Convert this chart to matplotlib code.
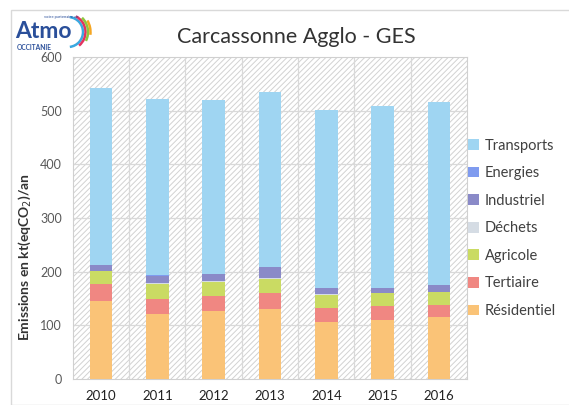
import matplotlib.pyplot as plt
import numpy as np
from matplotlib.patches import Rectangle, Arc

plt.rcParams['font.family'] = ['Lato', 'DejaVu Sans']
plt.rcParams['hatch.linewidth'] = 0.7

years = ["2010", "2011", "2012", "2013", "2014", "2015", "2016"]
residentiel = [145, 121, 127, 130, 106, 111, 116]
tertiaire = [33, 28, 28, 31, 26, 25, 22]
agricole = [23, 29, 26, 26, 25, 24, 24]
dechets = [1, 1, 1, 1, 1, 1, 1]
industriel = [10, 14, 14, 20, 12, 9, 12]
energies = [0.5, 0.5, 0.5, 0.5, 0.5, 0.5, 0.5]
transports = [330, 329, 324, 326, 331, 338, 341]

series = [("Résidentiel", residentiel, "#fac377"),
          ("Tertiaire", tertiaire, "#f08782"),
          ("Agricole", agricole, "#cadb63"),
          ("Déchets", dechets, "#d5dce4"),
          ("Industriel", industriel, "#8a8ac8"),
          ("Energies", energies, "#7f9bef"),
          ("Transports", transports, "#9fd5f2")]

fig = plt.figure(figsize=(5.69, 4.05), dpi=100)
ax = fig.add_axes([0.128, 0.064, 0.693, 0.795])

# hatched background
ax.add_patch(Rectangle((0, 0), 1, 1, transform=ax.transAxes, facecolor="white",
                       edgecolor="#d2d2d2", hatch="//////", linewidth=0, zorder=0))

x = np.arange(len(years))
bottom = np.zeros(len(years))
handles = {}
for name, vals, col in series:
    b = ax.bar(x, vals, 0.4, bottom=bottom, color=col, zorder=3, label=name)
    handles[name] = b
    bottom += np.array(vals)

ax.set_xlim(-0.5, len(years) - 0.5)
ax.set_ylim(0, 600)
ax.set_yticks(range(0, 601, 100))
ax.set_xticks(x)
ax.set_xticklabels(years)
for v in range(100, 600, 100):
    ax.axhline(v, color="#d9d9d9", lw=0.9, zorder=1)
for v in np.arange(0.5, len(years) - 0.5, 1):
    ax.axvline(v, color="#d9d9d9", lw=0.9, zorder=1)
for s in ax.spines.values():
    s.set_color("#d0d0d0")
ax.tick_params(length=0, pad=8)
ax.tick_params(axis="y", colors="#595959", labelsize=9)
ax.tick_params(axis="x", colors="#222222", labelsize=9.5)

ax.set_ylabel("Emissions en kt(eqCO$_2$)/an", fontsize=10, fontweight="bold",
              color="#333333")
ax.yaxis.set_label_coords(-0.10, 0.38)

fig.text(0.52, 0.908, "Carcassonne Agglo - GES", fontsize=15.5, color="#333333",
         ha="center", va="center")

order = ["Transports", "Energies", "Industriel", "Déchets", "Agricole", "Tertiaire", "Résidentiel"]
leg = fig.legend([handles[n] for n in order], order, loc="upper left",
                 bbox_to_anchor=(0.80, 0.69), frameon=False, fontsize=10.5,
                 handlelength=0.75, handleheight=0.75, handletextpad=0.4,
                 labelspacing=0.93, labelcolor="#404040")

# frame around chart
fig.add_artist(Rectangle((11 / 569, 0.0), 1.2, 1 - 10 / 405, transform=fig.transFigure,
                         fill=False, edgecolor="#d9d9d9", lw=1))

# logo
fig.text(0.026, 1 - 38 / 405, "Atmo", fontsize=16.5, fontweight="bold", color="#2a4f9a",
         ha="left", va="baseline")
fig.text(0.029, 1 - 44 / 405, "OCCITANIE", fontsize=4.8, fontweight="bold", color="#2a4f9a",
         ha="left", va="top")
fig.text(0.078, 0.958, "votre partenaire air", fontsize=3, color="#2a4f9a",
         ha="left", va="center")
arc_cols = ["#3aa8e0", "#e2345f", "#8cc63f", "#f5a623"]
for i, c in enumerate(arc_cols):
    fig.add_artist(Arc((68 / 569, 1 - 32 / 405), (30 + i * 5) / 569, (30 + i * 5) / 405,
                       theta1=-85 + i * 25, theta2=85 - i * 15, color=c, lw=1.8,
                       transform=fig.transFigure))

fig.savefig("out.png", dpi=100)
